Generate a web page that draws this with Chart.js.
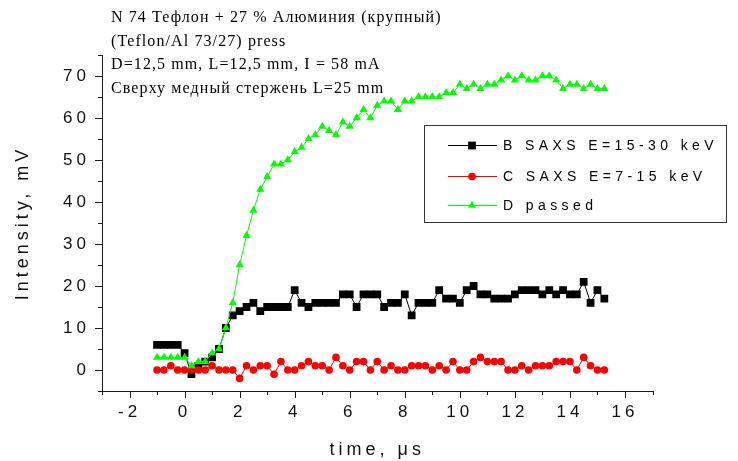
<!DOCTYPE html>
<html>
<head>
<meta charset="utf-8">
<style>
  html, body { margin: 0; padding: 0; background: #ffffff; }
  canvas { display: block; }
</style>
<script src="https://cdn.jsdelivr.net/npm/chart.js@4/dist/chart.umd.min.js"></script>
</head>
<body>
<canvas id="chart" width="738" height="461"></canvas>
<script>
// Sampling times, µs
const timeUs = [
  -1, -0.75, -0.5, -0.25, 0, 0.25, 0.5, 0.75, 1, 1.25, 1.5, 1.75,
  2, 2.25, 2.5, 2.75, 3, 3.25, 3.5, 3.75, 4, 4.25, 4.5, 4.75,
  5, 5.25, 5.5, 5.75, 6, 6.25, 6.5, 6.75, 7, 7.25, 7.5, 7.75,
  8, 8.25, 8.5, 8.75, 9, 9.25, 9.5, 9.75, 10, 10.25, 10.5, 10.75,
  11, 11.25, 11.5, 11.75, 12, 12.25, 12.5, 12.75, 13, 13.25, 13.5, 13.75,
  14, 14.25, 14.5, 14.75, 15, 15.25
];

// B: SAXS, E = 15-30 keV (mV)
const saxsHigh = [
  6, 6, 6, 6, 4, -1, 1, 2, 3, 5, 10, 13,
  14, 15, 16, 14, 15, 15, 15, 15, 19, 16, 15, 16,
  16, 16, 16, 18, 18, 15, 18, 18, 18, 15, 16, 16,
  18, 13, 16, 16, 16, 19, 17, 17, 16, 19, 20, 18,
  18, 17, 17, 17, 18, 19, 19, 19, 18, 19, 18, 19,
  18, 18, 21, 16, 19, 17
];

// C: SAXS, E = 7-15 keV (mV)
const saxsLow = [
  0, 0, 1, 0, 0, 0, 0, 0, 1, 0, 0, 0,
  -2, 1, 0, 1, 1, -1, 2, 0, 0, 1, 2, 1,
  1, 0, 3, 1, 0, 2, 2, 0, 2, 0, 1, 0,
  0, 1, 1, 1, 0, 1, 0, 2, 0, 0, 2, 3,
  2, 2, 2, 0, 0, 1, 0, 1, 1, 1, 2, 2,
  2, 0, 3, 1, 0, 0
];

// D: passed signal (mV)
const passed = [
  3, 3, 3, 3, 3, 1, 2, 2, 4, 5, 10, 16,
  25, 32, 38, 43, 46, 49, 49, 50, 52, 53, 55, 56,
  58, 57, 56, 59, 58, 60, 62, 60, 63, 64, 64, 62,
  64, 64, 65, 65, 65, 65, 66, 66, 68, 67, 68, 67,
  68, 68, 69, 70, 69, 70, 69, 69, 70, 70, 69, 67,
  68, 68, 67, 68, 67, 67
];

const seriesNames = ['B SAXS E=15-30 keV', 'C SAXS E=7-15 keV', 'D passed'];
const xTickValues = [-2, 0, 2, 4, 6, 8, 10, 12, 14, 16];
const yTickValues = [0, 10, 20, 30, 40, 50, 60, 70];
const noteLines = [
  'N 74 Тефлон + 27 % Алюминия (крупный)',
  '(Teflon/Al 73/27) press',
  'D=12,5 mm, L=12,5 mm, I = 58 mA',
  'Сверху медный стержень L=25 mm'
];

const SANS = '"Liberation Sans", Arial, sans-serif';
const SERIF = '"Liberation Serif", "Times New Roman", serif';
const AXIS_COLOR = '#1a1a1a';

const styles = [
  { color: '#000000', point: 'rect', radius: 5.5 },
  { color: '#ff0000', point: 'circle', radius: 3.8 },
  { color: '#00ff00', point: 'triangle', radius: 4.7 }
];

function toPoints(values) {
  return values.map((v, i) => ({ x: timeUs[i], y: v }));
}

function makeDataset(values, idx, order) {
  const s = styles[idx];
  return {
    label: seriesNames[idx],
    data: toPoints(values),
    borderColor: s.color,
    backgroundColor: s.color,
    borderWidth: 1,
    pointStyle: s.point,
    pointRadius: s.radius,
    pointBorderWidth: 0,
    pointBackgroundColor: s.color,
    pointBorderColor: s.color,
    tension: 0,
    order: order
  };
}

// Outward major/minor tick marks on both axes
const axisTicks = {
  id: 'axisTicks',
  afterDraw(chart) {
    const { ctx, chartArea: a } = chart;
    const x = chart.scales.x, y = chart.scales.y;
    ctx.save();
    ctx.strokeStyle = AXIS_COLOR;
    ctx.lineWidth = 1;
    ctx.beginPath();
    for (let v = x.min; v <= x.max; v += 1) {
      const px = Math.round(x.getPixelForValue(v)) + 0.5;
      const len = (v % 2 === 0) ? 7 : 4;
      ctx.moveTo(px, a.bottom);
      ctx.lineTo(px, a.bottom + len);
    }
    for (let v = y.min; v <= y.max; v += 5) {
      const py = Math.round(y.getPixelForValue(v)) + 0.5;
      const len = (v % 10 === 0) ? 7 : 4;
      ctx.moveTo(a.left, py);
      ctx.lineTo(a.left - len, py);
    }
    ctx.stroke();
    ctx.restore();
  }
};

// Wide letter spacing for the axis texts
const spacedText = {
  id: 'spacedText',
  beforeDraw(chart) { chart.ctx.letterSpacing = '4px'; },
  afterDraw(chart) { chart.ctx.letterSpacing = '0px'; }
};

function drawMarker(ctx, style, x, y) {
  ctx.fillStyle = style.color;
  ctx.beginPath();
  if (style.point === 'rect') {
    const s = style.radius * Math.SQRT2;
    ctx.rect(x - s / 2, y - s / 2, s, s);
  } else if (style.point === 'circle') {
    ctx.arc(x, y, style.radius, 0, Math.PI * 2);
  } else {
    const r = style.radius;
    ctx.moveTo(x, y - r);
    ctx.lineTo(x + r * 0.866, y + r * 0.5);
    ctx.lineTo(x - r * 0.866, y + r * 0.5);
    ctx.closePath();
  }
  ctx.fill();
}

// Boxed legend with line + marker samples, and the sample description
const notes = {
  id: 'notes',
  afterDraw(chart) {
    const ctx = chart.ctx;
    ctx.save();

    // sample description, top left
    ctx.fillStyle = '#000';
    ctx.font = '16px ' + SERIF;
    ctx.letterSpacing = '1.1px';
    ctx.textAlign = 'left';
    ctx.textBaseline = 'alphabetic';
    noteLines.forEach((t, i) => ctx.fillText(t, 111, 22 + i * 23.5));

    // legend frame
    const box = { x: 424.5, y: 125.5, w: 302, h: 97 };
    ctx.strokeStyle = '#333';
    ctx.lineWidth = 1;
    ctx.strokeRect(box.x, box.y, box.w, box.h);

    const rows = [145, 176, 205];
    ctx.font = '14px ' + SANS;
    ctx.letterSpacing = '4.4px';
    ctx.textBaseline = 'middle';
    seriesNames.forEach((name, i) => {
      const s = styles[i];
      const yy = rows[i] + 0.5;
      ctx.strokeStyle = s.color;
      ctx.beginPath();
      ctx.moveTo(448, yy);
      ctx.lineTo(497, yy);
      ctx.stroke();
      drawMarker(ctx, s, 472, yy);
      ctx.fillStyle = '#000';
      ctx.fillText(name, 503, rows[i] + 1);
    });

    ctx.letterSpacing = '0px';
    ctx.restore();
  }
};

new Chart(document.getElementById('chart'), {
  type: 'line',
  data: {
    datasets: [
      makeDataset(saxsHigh, 0, 2),
      makeDataset(saxsLow, 1, 1),
      makeDataset(passed, 2, 0)
    ]
  },
  options: {
    responsive: false,
    animation: false,
    devicePixelRatio: 1,
    layout: { padding: { left: 0, right: 85.5, top: 55, bottom: 0 } },
    plugins: {
      legend: { display: false },
      tooltip: { enabled: false }
    },
    scales: {
      x: {
        type: 'linear',
        min: -3,
        max: 17,
        afterBuildTicks: s => { s.ticks = xTickValues.map(v => ({ value: v })); },
        afterFit: s => { s.height = 70; },
        grid: { display: true, drawOnChartArea: false, drawTicks: false },
        border: { display: true, color: AXIS_COLOR, width: 1 },
        ticks: {
          font: { family: SANS, size: 17 },
          color: '#111',
          padding: 11,
          maxRotation: 0,
          autoSkip: false
        },
        title: {
          display: true,
          text: 'time, μs',
          color: '#111',
          font: { family: SANS, size: 18, lineHeight: 1.2 },
          padding: { top: 0, bottom: 0 }
        }
      },
      y: {
        type: 'linear',
        min: -5,
        max: 75,
        afterBuildTicks: s => { s.ticks = yTickValues.map(v => ({ value: v })); },
        afterFit: s => { s.width = 102; },
        grid: { display: true, drawOnChartArea: false, drawTicks: false },
        border: { display: true, color: AXIS_COLOR, width: 1 },
        ticks: {
          font: { family: SANS, size: 17 },
          color: '#111',
          padding: 12
        },
        title: {
          display: true,
          text: 'Intensity, mV',
          color: '#111',
          font: { family: SANS, size: 18, lineHeight: 1.2 },
          padding: { top: 12, bottom: 0 }
        }
      }
    }
  },
  plugins: [spacedText, axisTicks, notes]
});
</script>
</body>
</html>
